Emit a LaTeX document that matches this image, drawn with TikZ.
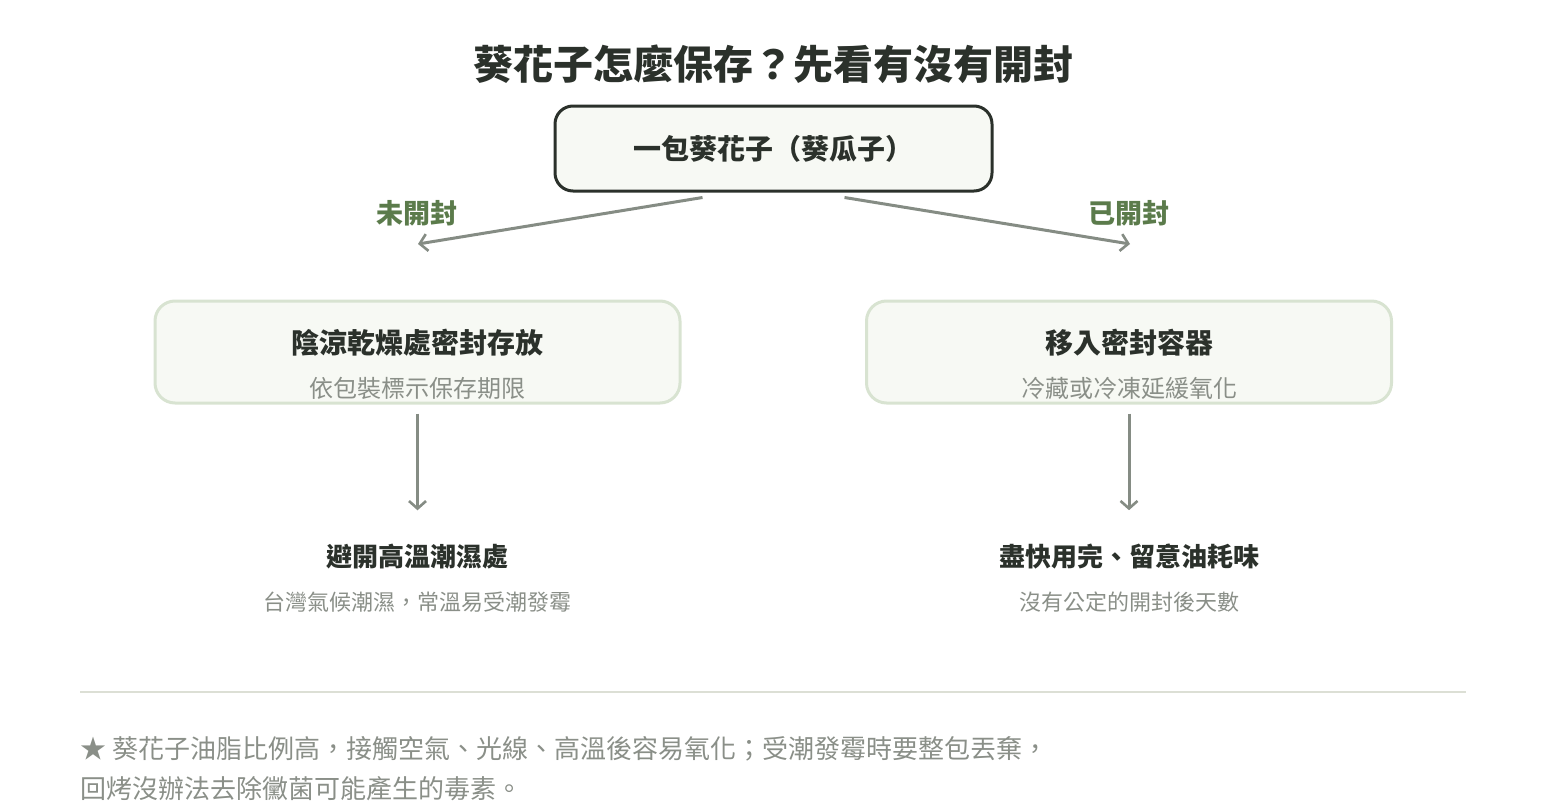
\documentclass[tikz,border=0pt]{standalone}
\usepackage{fontspec}
\setmainfont{Noto Sans CJK TC}
\usetikzlibrary{positioning,arrows.meta,calc}
\definecolor{inkdark}{HTML}{2B312B}
\definecolor{inkgray}{HTML}{8A8F88}
\definecolor{inkgreen}{HTML}{5B7B4B}
\definecolor{arrowgray}{HTML}{858C84}
\definecolor{boxfill}{HTML}{F7F9F4}
\definecolor{boxline}{HTML}{D8E3D1}
\definecolor{ruleline}{HTML}{DCDFD5}
\tikzset{
    rootbox/.style={draw=inkdark, fill=boxfill, line width=3pt, rounded corners=18pt,
        minimum width=437pt, minimum height=85pt, inner sep=0pt,
        text=inkdark, font=\fontsize{28}{32}\selectfont\bfseries},
    stepbox/.style={draw=boxline, fill=boxfill, line width=3pt, rounded corners=20pt,
        minimum width=525pt, minimum height=102pt, inner sep=0pt},
    headtext/.style={inner sep=0pt, text=inkdark, font=\fontsize{28}{32}\selectfont\bfseries},
    subtext/.style={inner sep=0pt, text=inkgray, font=\fontsize{24}{28}\selectfont},
    branchtext/.style={inner sep=0pt, text=inkgreen, font=\fontsize{27}{31}\selectfont\bfseries},
    flowarrow/.style={draw=arrowgray, line width=3pt, ->},
}

\begin{document}
\begin{tikzpicture}[
    x=1pt, y=-1pt,
    >={Straight Barb[length=7.5pt, width=17pt, line width=2.6pt]},
  ]

  \useasboundingbox (0,0) rectangle (1546,800);

  % -----
  % Title
  % -----
  \node[inner sep=0pt, text=inkdark, font=\fontsize{40}{46}\selectfont\bfseries]
    (title) at (773,64) {葵花子怎麼保存？先看有沒有開封};

  % the package at the top
  \node[rootbox] (pack) at (773.5,148.5) {一包葵花子（葵瓜子）};

  % ---------------
  % Left: unopened
  % ---------------
  \coordinate (closedend) at (418,244);
  \draw[flowarrow] ([xshift=-71pt, yshift=-5pt]pack.south) -- (closedend);
  \node[branchtext] (closed) at (417,213) {未開封};

  \node[stepbox] (shade) at (417.5,352) {};
  \node[headtext] (shadehead) at (417.5,343) {陰涼乾燥處密封存放};
  \node[subtext] (shadesub) at (417.5,388) {依包裝標示保存期限};

  \node[headtext, font=\fontsize{26}{30}\selectfont\bfseries] (avoid) at (417.5,557) {避開高溫潮濕處};
  \node[subtext, font=\fontsize{22}{26}\selectfont] (avoidsub) at (417.5,602) {台灣氣候潮濕，常溫易受潮發霉};
  \draw[flowarrow, shorten <=9pt, shorten >=34pt] (shade.south) -- (avoid.north);

  % -------------
  % Right: opened
  % -------------
  \coordinate (openend) at (1130,244);
  \draw[flowarrow] ([xshift=71pt, yshift=-5pt]pack.south) -- (openend);
  \node[branchtext] (open) at (1129,213) {已開封};

  \node[stepbox] (jar) at (1129,352) {};
  \node[headtext] (jarhead) at (1129,343) {移入密封容器};
  \node[subtext] (jarsub) at (1129,388) {冷藏或冷凍延緩氧化};

  \node[headtext, font=\fontsize{26}{30}\selectfont\bfseries] (useup) at (1129,557) {盡快用完、留意油耗味};
  \node[subtext, font=\fontsize{22}{26}\selectfont] (useupsub) at (1129,602) {沒有公定的開封後天數};
  \draw[flowarrow, shorten <=9pt, shorten >=34pt] (jar.south) -- (useup.north);

  % -------------
  % Footnote
  % -------------
  \coordinate (ruleleft) at (80,692);
  \coordinate (ruleright) at (1466,692);
  \draw[ruleline, line width=2pt] (ruleleft) -- (ruleright);

  \node[inner sep=0pt, anchor=west, align=left, text=inkgray,
    font=\fontsize{26}{40}\selectfont] (note) at (80,769)
    {★ 葵花子油脂比例高，接觸空氣、光線、高溫後容易氧化；受潮發霉時要整包丟棄，\\
     回烤沒辦法去除黴菌可能產生的毒素。};

\end{tikzpicture}
\end{document}
